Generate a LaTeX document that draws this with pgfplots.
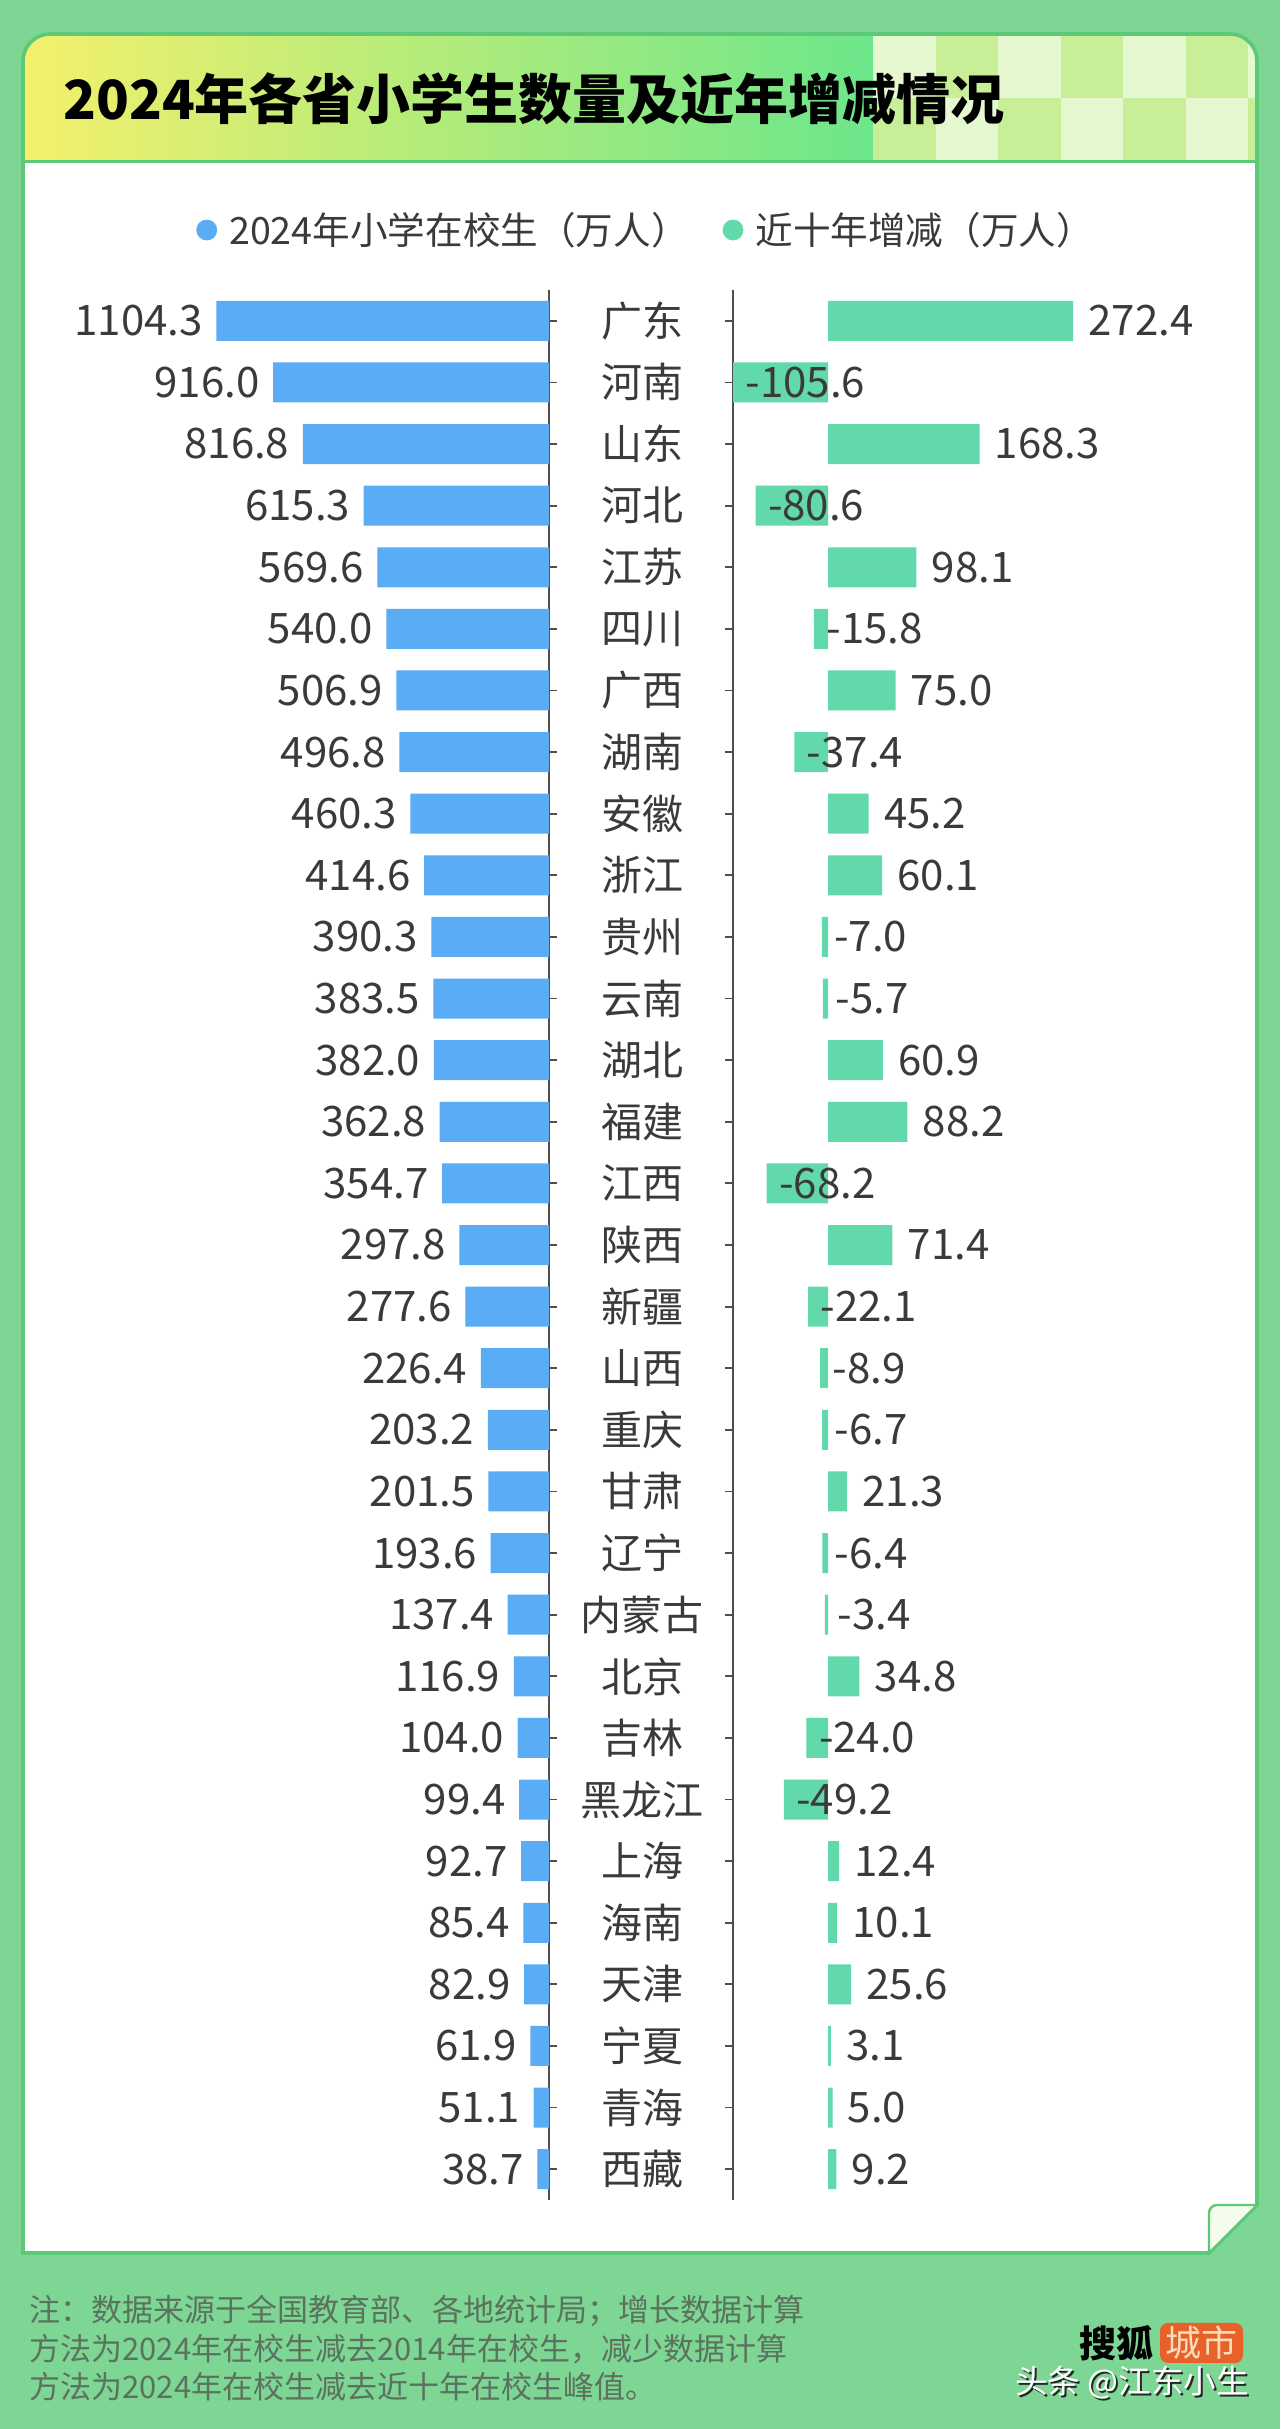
\documentclass[border=0pt]{standalone}
\usepackage{pgfplots}
\pgfplotsset{compat=1.18}
\usepackage{pgfplotstable}
\usepackage{fontspec}
\setmainfont{Noto Sans CJK SC}

\definecolor{bggreen}{HTML}{7DD694}
\definecolor{edgegreen}{HTML}{5CC878}
\definecolor{barblue}{HTML}{5AADF5}
\definecolor{barteal}{HTML}{62D9AA}
\definecolor{chklight}{HTML}{E6F8D0}
\definecolor{chkmid}{HTML}{C8EE98}
\definecolor{hdrleft}{HTML}{F4F06C}
\definecolor{hdrright}{HTML}{6CE68A}
\definecolor{txt}{HTML}{3A3A3A}
\definecolor{notegray}{HTML}{5B725F}
\definecolor{sohuorange}{HTML}{E8602A}
\definecolor{sohutext}{HTML}{F8DDB8}
\definecolor{foldfill}{HTML}{F5FCEE}

% idx: row from top, pupils: 2024 pupils (10k), change: ten-year change (10k)
\pgfplotstableread{
idx name pupils change
0 广东 1104.3 272.4
1 河南 916.0 -105.6
2 山东 816.8 168.3
3 河北 615.3 -80.6
4 江苏 569.6 98.1
5 四川 540.0 -15.8
6 广西 506.9 75.0
7 湖南 496.8 -37.4
8 安徽 460.3 45.2
9 浙江 414.6 60.1
10 贵州 390.3 -7.0
11 云南 383.5 -5.7
12 湖北 382.0 60.9
13 福建 362.8 88.2
14 江西 354.7 -68.2
15 陕西 297.8 71.4
16 新疆 277.6 -22.1
17 山西 226.4 -8.9
18 重庆 203.2 -6.7
19 甘肃 201.5 21.3
20 辽宁 193.6 -6.4
21 内蒙古 137.4 -3.4
22 北京 116.9 34.8
23 吉林 104.0 -24.0
24 黑龙江 99.4 -49.2
25 上海 92.7 12.4
26 海南 85.4 10.1
27 天津 82.9 25.6
28 宁夏 61.9 3.1
29 青海 51.1 5.0
30 西藏 38.7 9.2
}\provdata

\newcommand{\valfmt}[1]{\pgfmathprintnumber[fixed,fixed zerofill,precision=1,1000 sep={},assume math mode=true]{#1}}

\pgfplotsset{
  rowaxis/.style={
    scale only axis, height=955pt,
    y dir=reverse, ymin=-0.5, ymax=30.5,
    hide x axis,
    y axis line style={-, draw=txt!90, line width=0.9pt},
    ytick={0,...,30},
    major tick length=4pt, tick align=outside,
    tick style={draw=txt!90, line width=0.9pt},
    point meta=x,
    clip=false,
    every node near coord/.append style={inner sep=0pt, text=txt,
      font=\fontsize{21}{21}\selectfont},
  },
  dotlegend/.style={legend image code/.code={\fill[#1] (0pt,0pt) circle (5pt); \path (9pt,0pt);}},
}

\begin{document}
\begin{tikzpicture}[x=0.5pt,y=0.5pt]
% page and card
\fill[bggreen] (0,0) rectangle (1280,2429);
\def\cardpath{(23,176) -- (1209,176) -- (1257,224) -- (1257,2368)
  arc[start angle=0,end angle=90,radius=13.5pt] -- (50,2395)
  arc[start angle=90,end angle=180,radius=13.5pt] -- cycle}
\fill[white] \cardpath;
\begin{scope}
  \clip \cardpath;
  \shade[left color=hdrleft, right color=hdrright] (23,2267) rectangle (873,2395);
  \foreach \c in {0,...,6}{
    \foreach \r in {0,1}{
      \pgfmathtruncatemacro{\odd}{mod(\c+\r,2)}
      \ifnum\odd=0 \def\cc{chklight}\else\def\cc{chkmid}\fi
      \fill[\cc] (873+62.5*\c,2331-64*\r) rectangle (873+62.5*\c+62.5,2395-64*\r);
    }
  }
\end{scope}
\draw[edgegreen, line width=1.5pt] (23,2267) -- (1257,2267);
\draw[edgegreen, line width=1.8pt] \cardpath;
\filldraw[fill=foldfill, draw=edgegreen, line width=1.2pt]
  (1209,176) -- (1209,216) arc[start angle=180,end angle=90,radius=4pt] -- (1257,224) -- cycle;

% title
\node[anchor=west, inner sep=0pt, font=\bfseries\fontsize{27}{27}\selectfont, text=black]
  at (63,2330) {2024年各省小学生数量及近年增减情况};

% left: 2024 pupils (box x 60..549, y 229..2139 in half-points)
\begin{axis}[rowaxis, at={(152.25pt,592pt)}, anchor=center, width=244.5pt,
  x dir=reverse, xmin=0, xmax=1623,
  axis y line*=right,
  yticklabels from table={\provdata}{name},
  yticklabel style={anchor=center, xshift=42.5pt, text=txt,
    font=\fontsize{20.5}{20.5}\selectfont},
  nodes near coords={\llap{\valfmt{\pgfplotspointmeta}\hspace{7.5pt}}},
  legend style={at={(axis description cs:0.278,1.0314)}, anchor=west,
    draw=none, fill=none, inner sep=0pt, text=txt,
    font=\fontsize{18.8}{18.8}\selectfont, legend columns=2,
    /tikz/every even column/.append style={column sep=15pt}},
]
\addplot[xbar, bar width=20pt, fill=barblue, draw=none, forget plot]
  table[x=pupils, y=idx] {\provdata};
\addlegendimage{dotlegend=barblue}
\addlegendentry{2024年小学在校生（万人）}
\addlegendimage{dotlegend=barteal}
\addlegendentry{近十年增减（万人）}
\end{axis}

% right: ten-year change (box x 733..1240)
\begin{axis}[rowaxis, at={(493.25pt,592pt)}, anchor=center, width=253.5pt,
  xmin=-105.6, xmax=457.7,
  axis y line*=left,
  yticklabels={},
  nodes near coords={\rlap{\hspace{7pt}\valfmt{\pgfplotspointmeta}}},
]
\addplot[xbar, bar width=20pt, fill=barteal, draw=none]
  table[x=change, y=idx] {\provdata};
\end{axis}

% footnote
\begin{scope}[every node/.style={anchor=west, inner sep=0pt, text=notegray,
    font=\fontsize{15.5}{15.5}\selectfont}]
  \node at (29,118) {注：数据来源于全国教育部、各地统计局；增长数据计算};
  \node at (29,80) {方法为2024年在校生减去2014年在校生，减少数据计算};
  \node at (29,42) {方法为2024年在校生减去近十年在校生峰值。};
\end{scope}

% watermark
\node[font=\bfseries\fontsize{18.5}{18.5}\selectfont, text=black] at (1116,86) {搜狐};
\node[fill=sohuorange, rounded corners=4pt, minimum width=41.5pt, minimum height=20pt,
  inner sep=0pt, text=sohutext, font=\fontsize{18}{18}\selectfont] at (1201.5,86) {城市};
\node[text=black!85, font=\fontsize{16.3}{16.3}\selectfont] at (1134,44) {头条 @江东小生};
\node[text=white, font=\fontsize{16.3}{16.3}\selectfont] at (1132,46) {头条 @江东小生};
\end{tikzpicture}
\end{document}
